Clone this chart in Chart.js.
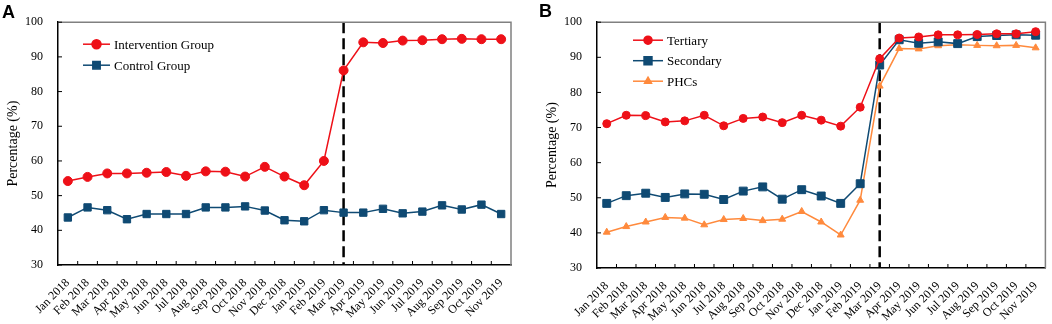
<!DOCTYPE html>
<html>
<head>
<meta charset="utf-8">
<script src="https://cdn.jsdelivr.net/npm/chart.js@4.4.0/dist/chart.umd.min.js"></script>
<style>
  body { margin: 0; background: #fff; }
  #wrap { position: relative; width: 1052px; height: 324px; }
  canvas { position: absolute; top: 0; }
  .tag { position: absolute; font: bold 18px 'Liberation Sans', Arial, sans-serif; line-height: 18px; }
</style>
</head>
<body>
<div id="wrap">
  <canvas id="chartA" width="520" height="324" style="left:0"></canvas>
  <canvas id="chartB" width="532" height="324" style="left:520px"></canvas>
  <div class="tag" style="left:2px;top:3px">A</div>
  <div class="tag" style="left:539px;top:2px">B</div>
</div>
<script>
// month labels on the x axis
const months = ['Jan 2018', 'Feb 2018', 'Mar 2018', 'Apr 2018', 'May 2018', 'Jun 2018',
  'Jul 2018', 'Aug 2018', 'Sep 2018', 'Oct 2018', 'Nov 2018', 'Dec 2018',
  'Jan 2019', 'Feb 2019', 'Mar 2019', 'Apr 2019', 'May 2019', 'Jun 2019',
  'Jul 2019', 'Aug 2019', 'Sep 2019', 'Oct 2019', 'Nov 2019'];

// where the intervention starts (dashed line)
const cutoffMonth = 'Mar 2019';

// panel A
const interventionGroup = [54.2, 55.4, 56.4, 56.4, 56.6, 56.8, 55.7, 57.0, 56.9, 55.5, 58.3, 55.5,
  53.0, 60.0, 86.1, 94.2, 94.0, 94.7, 94.8, 95.1, 95.2, 95.1, 95.1];
const controlGroup = [43.7, 46.6, 45.8, 43.2, 44.7, 44.7, 44.7, 46.6, 46.6, 46.9, 45.7, 42.9,
  42.6, 45.8, 45.1, 45.1, 46.2, 44.9, 45.4, 47.2, 46.0, 47.4, 44.7];

// panel B
const tertiary = [71.1, 73.5, 73.4, 71.6, 71.9, 73.5, 70.5, 72.6, 73.0, 71.4, 73.5, 72.1,
  70.4, 75.8, 89.6, 95.5, 95.8, 96.4, 96.4, 96.5, 96.7, 96.7, 97.3];
const secondary = [48.4, 50.6, 51.3, 50.1, 51.1, 51.0, 49.5, 51.9, 53.1, 49.6, 52.3, 50.5,
  48.4, 54.0, 87.8, 95.0, 94.0, 94.4, 93.9, 95.9, 96.2, 96.4, 96.3];
const phcs = [40.2, 41.8, 43.1, 44.4, 44.2, 42.3, 43.8, 44.1, 43.5, 43.9, 46.1, 43.1,
  39.4, 49.3, 81.8, 92.5, 92.4, 93.3, 93.6, 93.4, 93.3, 93.4, 92.7];

const yMin = 30, yMax = 100, yStep = 10;

const RED = '#EE1018';
const NAVY = '#0F4A73';
const ORANGE = '#FF8A3D';
const SERIF = "'Liberation Serif', 'Times New Roman', serif";

function series(label, data, color, style, radius) {
  return {
    label: label,
    data: data,
    borderColor: color,
    backgroundColor: color,
    borderWidth: 1.5,
    pointStyle: style,
    pointRadius: radius,
    pointBorderWidth: 1,
    pointBorderColor: color,
    pointBackgroundColor: color,
    tension: 0
  };
}

// frame, inward ticks, dashed cutoff line and legend inside the plot
const decorations = {
  id: 'decorations',
  beforeDatasetsDraw(chart) {
    const ctx = chart.ctx, a = chart.chartArea;
    const x = chart.scales.x.getPixelForValue(months.indexOf(cutoffMonth));
    ctx.save();
    ctx.strokeStyle = '#000';
    ctx.lineWidth = 2.5;
    ctx.setLineDash([11, 5]);
    ctx.beginPath();
    ctx.moveTo(x, a.top);
    ctx.lineTo(x, a.bottom);
    ctx.stroke();
    ctx.restore();
  },
  afterDraw(chart, args, opts) {
    const ctx = chart.ctx, a = chart.chartArea;
    const xs = chart.scales.x, ys = chart.scales.y;
    ctx.save();
    // top and right edges
    ctx.strokeStyle = '#808080';
    ctx.lineWidth = 1.5;
    ctx.beginPath();
    ctx.moveTo(a.left, a.top);
    ctx.lineTo(a.right, a.top);
    ctx.lineTo(a.right, a.bottom);
    ctx.stroke();
    // inward tick marks
    ctx.strokeStyle = '#000';
    ctx.lineWidth = 1;
    ctx.beginPath();
    ys.ticks.forEach((t, i) => {
      const y = ys.getPixelForTick(i);
      ctx.moveTo(a.left, y);
      ctx.lineTo(a.left + 4, y);
    });
    const n = months.length;
    for (let i = 1; i < n; i++) {
      const x = (xs.getPixelForValue(i - 1) + xs.getPixelForValue(i)) / 2;
      ctx.moveTo(x, a.bottom);
      ctx.lineTo(x, a.bottom - 4);
    }
    ctx.stroke();
    // legend
    chart.data.datasets.forEach((ds, i) => {
      const y = a.top + opts.top + i * opts.gap;
      const x0 = a.left + opts.left;
      ctx.strokeStyle = ds.borderColor;
      ctx.lineWidth = 1.5;
      ctx.beginPath();
      ctx.moveTo(x0, y);
      ctx.lineTo(x0 + opts.line, y);
      ctx.stroke();
      ctx.fillStyle = ds.backgroundColor;
      Chart.helpers.drawPoint(ctx, {
        pointStyle: ds.pointStyle, radius: ds.pointRadius, rotation: 0, borderWidth: 1
      }, x0 + opts.line / 2, y);
      ctx.fillStyle = '#000';
      ctx.font = '13px ' + SERIF;
      ctx.textBaseline = 'middle';
      ctx.textAlign = 'left';
      ctx.fillText(ds.label, x0 + opts.line + 4, y + 1);
    });
    ctx.restore();
  }
};

function makeChart(id, datasets, cfg) {
  return new Chart(document.getElementById(id), {
    type: 'line',
    data: { labels: months, datasets: datasets },
    plugins: [decorations],
    options: {
      responsive: false,
      animation: false,
      devicePixelRatio: 1,
      layout: { padding: { top: 20, right: cfg.right, left: 0, bottom: 0 } },
      plugins: {
        legend: { display: false },
        tooltip: { enabled: false },
        decorations: cfg.legend
      },
      scales: {
        x: {
          offset: true,
          grid: { display: false, drawTicks: false },
          border: { display: true, color: '#000', width: 1.5 },
          ticks: {
            autoSkip: false,
            maxRotation: 45,
            minRotation: 45,
            padding: 11,
            color: '#000',
            font: { family: SERIF, size: 12 }
          },
          afterFit(scale) {
            scale.height = cfg.xHeight;
            scale.paddingLeft = 0;
            scale.paddingRight = 0;
          }
        },
        y: {
          min: yMin,
          max: yMax,
          grid: { display: false, drawTicks: false },
          border: { display: true, color: '#000', width: 1.5 },
          ticks: {
            stepSize: yStep,
            padding: 15,
            color: '#000',
            font: { family: SERIF, size: 12 }
          },
          title: {
            display: true,
            text: 'Percentage (%)',
            color: '#000',
            font: { family: SERIF, size: 14 },
            padding: { top: cfg.titlePad, bottom: 0 }
          },
          afterFit(scale) { scale.width = cfg.yWidth; }
        }
      }
    }
  });
}

makeChart('chartA', [
  series('Intervention Group', interventionGroup, RED, 'circle', 4.5),
  series('Control Group', controlGroup, NAVY, 'rect', 5.2)
], { right: 9, xHeight: 59, yWidth: 58, titlePad: 5,
     legend: { left: 25, top: 22, gap: 21, line: 27 } });

makeChart('chartB', [
  series('Tertiary', tertiary, RED, 'circle', 4),
  series('Secondary', secondary, NAVY, 'rect', 5.6),
  series('PHCs', phcs, ORANGE, 'triangle', 4)
], { right: 3, xHeight: 56, yWidth: 77, titlePad: 24,
     legend: { left: 36, top: 18, gap: 20.5, line: 30 } });
</script>
</body>
</html>
